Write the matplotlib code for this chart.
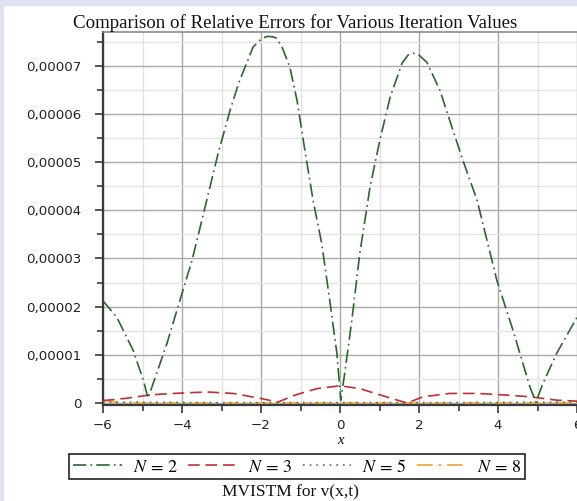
import matplotlib
matplotlib.use("Agg")
import matplotlib.pyplot as plt
from matplotlib.patches import Rectangle
from matplotlib.ticker import MultipleLocator, FuncFormatter
from matplotlib.lines import Line2D

# Relative error samples (units of 1e-5) for each iteration count
x_n2 = [-6.0, -5.65, -5.24, -4.98, -4.86, -4.64, -4.38, -4.05, -3.75, -3.54,
        -3.08, -2.78, -2.57, -2.2, -2.0, -1.85, -1.7, -1.6, -1.45, -1.27,
        -1.09, -0.89, -0.68, -0.46, -0.25, -0.08, 0.02, 0.13, 0.3, 0.5,
        0.76, 1.01, 1.27, 1.57, 1.72, 1.85, 2.0, 2.2, 2.53, 2.86, 3.11,
        3.47, 3.72, 3.97, 4.38, 4.81, 4.96, 5.14, 5.49, 6.0]
err_n2 = [2.12, 1.78, 1.10, 0.48, 0.10, 0.62, 1.24, 2.14, 2.95, 3.65,
          5.2, 6.08, 6.63, 7.39, 7.55, 7.61, 7.60, 7.57, 7.35, 6.97,
          6.29, 5.25, 4.2, 3.3, 2.07, 1.04, 0.06, 0.68, 1.72, 3.1,
          4.48, 5.46, 6.35, 7.05, 7.22, 7.26, 7.22, 7.07, 6.49, 5.66, 5.04,
          4.21, 3.38, 2.55, 1.51, 0.33, 0.02, 0.41, 1.04, 1.78]

x_n3 = [-6.0, -5.4, -4.81, -4.22, -3.37, -2.7, -2.03, -1.57, -1.19, -1.0,
        -0.58, 0.0, 0.5, 1.01, 1.7, 2.1, 2.78, 3.47, 4.13, 4.81, 5.49, 6.0]
err_n3 = [0.05, 0.10, 0.17, 0.20, 0.23, 0.20, 0.10, 0.02, 0.15, 0.20,
          0.30, 0.36, 0.30, 0.17, 0.0, 0.13, 0.20, 0.20, 0.17, 0.13, 0.06, 0.04]

x_n5 = [-6.0, -3.0, 0.0, 3.0, 6.0]
err_n5 = [0.02, 0.01, 0.01, 0.01, 0.02]

x_n8 = [-6.0, -5.5, -3.0, 0.0, 3.0, 6.0]
err_n8 = [0.06, 0.0, 0.0, 0.0, 0.0, 0.0]

SCALE = 1e-5

W, H = 577, 501
fig = plt.figure(figsize=(W / 100, H / 100), dpi=100)
fig.patch.set_facecolor("#dde1f2")
plt.rcParams["mathtext.fontset"] = "stix"


def fx(px):
    return px / W


def fy(py):
    return 1 - py / H


# white plotting panel
fig.add_artist(Rectangle((fx(4), 0), 1 - fx(4), fy(6), transform=fig.transFigure,
                         facecolor="white", edgecolor="none", zorder=0))

ax = fig.add_axes([fx(103), fy(405), fx(577) - fx(103), fy(32) - fy(405)])
ax.set_facecolor("white")

green = "#2a682a"
red = "#c0302c"
dotc = "#556b55"
orange = "#f0b050"

style_n2 = dict(color=green, lw=1.2, dashes=(8, 2.5, 1, 2.5))
style_n3 = dict(color=red, lw=1.2, dashes=(7, 3.5))
style_n5 = dict(color=dotc, lw=1.2, dashes=(1, 3))
style_n8 = dict(color=orange, lw=1.4, dashes=(8, 3, 1.5, 3))

ax.plot(x_n2, [v * SCALE for v in err_n2], zorder=5, **style_n2)
ax.plot(x_n3, [v * SCALE for v in err_n3], zorder=4, **style_n3)
ax.plot(x_n5, [v * SCALE for v in err_n5], zorder=3, **style_n5)
ax.plot(x_n8, [v * SCALE for v in err_n8], zorder=2, **style_n8)

ax.set_xlim(-6, 6)
ax.set_ylim(-0.04e-5, 7.70e-5)

ax.xaxis.set_major_locator(MultipleLocator(2))
ax.xaxis.set_minor_locator(MultipleLocator(1))
ax.yaxis.set_major_locator(MultipleLocator(1e-5))
ax.yaxis.set_minor_locator(MultipleLocator(0.5e-5))


def comma_fmt(v, pos):
    if abs(v) < 1e-12:
        return "0"
    return f"{v:.5f}".replace(".", ",")


ax.yaxis.set_major_formatter(FuncFormatter(comma_fmt))

ax.grid(True, which="major", color="#a9a9a9", lw=1.0, zorder=0)
ax.grid(True, which="minor", color="#e3e3e3", lw=1.0, zorder=0)
ax.set_axisbelow(True)

for s in ["left", "bottom"]:
    ax.spines[s].set_color("#3a3a3a")
    ax.spines[s].set_linewidth(1.6)
ax.spines["top"].set_color("#8a8a8a")
ax.spines["top"].set_linewidth(1.2)
ax.spines["right"].set_visible(False)

ax.tick_params(which="both", direction="out", color="#3a3a3a", width=1.2)
ax.tick_params(which="major", length=6, labelsize=9.6, labelcolor="#222222")
ax.tick_params(which="minor", length=4.5)
ax.tick_params(axis="y", pad=9.5)
ax.tick_params(axis="x", pad=4)

serif = ["Liberation Serif", "DejaVu Serif"]

fig.text(fx(295), fy(23), "Comparison of Relative Errors for Various Iteration Values",
         ha="center", va="center", fontsize=13.6, family=serif, color="#111111")
fig.text(fx(340), fy(441), "x", ha="center", va="center", fontsize=10.5,
         family=serif, style="italic", color="#111111")
fig.text(fx(290), fy(492), "MVISTM for v(x,t)", ha="center", va="center",
         fontsize=12.5, family=serif, color="#111111")

# legend box below the axes
handles = [Line2D([], [], **style_n2), Line2D([], [], **style_n3),
           Line2D([], [], **style_n5), Line2D([], [], **style_n8)]
labels = ["$N\\,=\\,2$", "$N\\,=\\,3$", "$N\\,=\\,5$", "$N\\,=\\,8$"]
leg = fig.legend(handles, labels, loc="center", ncol=4,
                 bbox_to_anchor=(fx(297), fy(466.5)), frameon=True,
                 fancybox=False, edgecolor="#222222", framealpha=1,
                 fontsize=13, handlelength=2.7, handletextpad=0.6,
                 columnspacing=0.6, borderpad=0.2)
leg.get_frame().set_linewidth(1.2)

fig.savefig("out.png", dpi=100, facecolor=fig.get_facecolor())
